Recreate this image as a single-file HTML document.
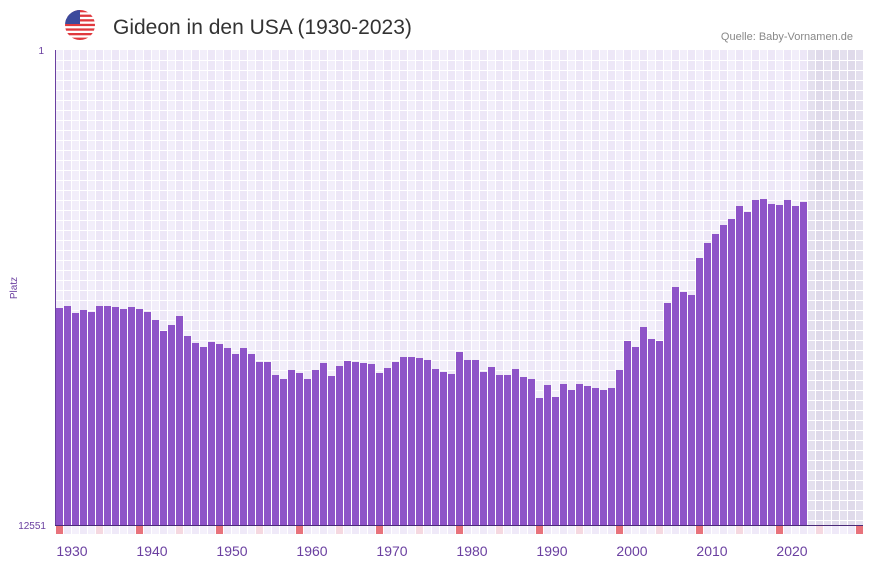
<!DOCTYPE html>
<html><head><meta charset="utf-8"><style>
body{margin:0;background:#fff;width:873px;height:567px;overflow:hidden;font-family:"Liberation Sans",sans-serif}
</style></head><body>
<svg id="s" width="873" height="567" xmlns="http://www.w3.org/2000/svg" font-family="Liberation Sans, sans-serif">
<defs><clipPath id="fc"><circle cx="80" cy="25" r="15"/></clipPath></defs>
<g clip-path="url(#fc)">
<rect x="65" y="10" width="30" height="30" fill="#fff"/>
<rect x="65" y="10" width="30" height="2.3" fill="#e0393e"/>
<rect x="65" y="14.6" width="30" height="2.3" fill="#e0393e"/>
<rect x="65" y="19.2" width="30" height="2.3" fill="#e0393e"/>
<rect x="65" y="23.8" width="30" height="2.3" fill="#e0393e"/>
<rect x="65" y="28.4" width="30" height="2.3" fill="#e0393e"/>
<rect x="65" y="33" width="30" height="2.3" fill="#e0393e"/>
<rect x="65" y="37.6" width="30" height="2.4" fill="#e0393e"/>
<rect x="65" y="10" width="15" height="14" fill="#3c4a9c"/>
</g>
<text x="113" y="34" font-size="21" fill="#333">Gideon in den USA (1930-2023)</text>
<text x="853" y="40" font-size="11" fill="#888" text-anchor="end">Quelle: Baby-Vornamen.de</text>
<g id="grid"></g>
<g id="bars"></g>
<line x1="55.5" y1="50" x2="55.5" y2="525" stroke="#6a3fa0" stroke-width="1"/>
<line x1="55" y1="525.5" x2="863" y2="525.5" stroke="#4a2a78" stroke-width="1"/>
<text x="44" y="54" font-size="10" fill="#6a3fa0" text-anchor="end">1</text>
<text x="46" y="529" font-size="10" fill="#6a3fa0" text-anchor="end">12551</text>
<text transform="translate(17,288) rotate(-90)" font-size="10" fill="#6a3fa0" text-anchor="middle">Platz</text>
<g font-size="14" fill="#6a3fa0" text-anchor="middle">
<text x="72" y="556">1930</text><text x="152" y="556">1940</text><text x="232" y="556">1950</text>
<text x="312" y="556">1960</text><text x="392" y="556">1970</text><text x="472" y="556">1980</text>
<text x="552" y="556">1990</text><text x="632" y="556">2000</text><text x="712" y="556">2010</text>
<text x="792" y="556">2020</text>
</g>
</svg>
<script>
var ns="http://www.w3.org/2000/svg";
function r(p,x,y,w,h,f){var e=document.createElementNS(ns,"rect");e.setAttribute("x",x);e.setAttribute("y",y);e.setAttribute("width",w);e.setAttribute("height",h);e.setAttribute("fill",f);document.getElementById(p).appendChild(e);}
// background
r("grid",56,50,752,475,"#f2eefa");
for(var c=0;c<94;c++){ if(c%2==1) r("grid",56+c*8,50,8,475,"#ede7f7"); }
r("grid",808,50,55,475,"#e4e0ee");
for(var c=94;c<101;c++){ if(c%2==1) r("grid",56+c*8,50,8,475,"#dfdaea"); }
for(var c=0;c<=101;c++) r("grid",56+c*8-1,50,1,475,"#fff");
for(var y=60;y<525;y+=10) r("grid",56,y,807,1,"#fff");
// bottom markers
for(var c=0;c<101;c++){var f=(c%10==0)?"#e8727b":(c%10==5)?"#f5d8e0":(c%2? "#efe9f8":"#f4f0fb");r("grid",56+c*8,526,7,8,f);}
var t=[308,306,313,310,312,306,306,307,309,307,309,312,320,331,325,316,336,343,347,342,344,348,354,348,354,362,362,375,379,370,373,379,370,363,376,366,361,362,363,364,373,368,362,357,357,358,360,369,372,374,352,360,360,372,367,375,375,369,377,379,398,385,397,384,390,384,386,388,390,388,370,341,347,327,339,341,303,287,292,295,258,243,234,225,219,206,212,200,199,204,205,200,206,202];
for(var i=0;i<t.length;i++) r("bars",56+i*8,t[i],7,525-t[i],"#8e54c8");
</script>
</body></html>
